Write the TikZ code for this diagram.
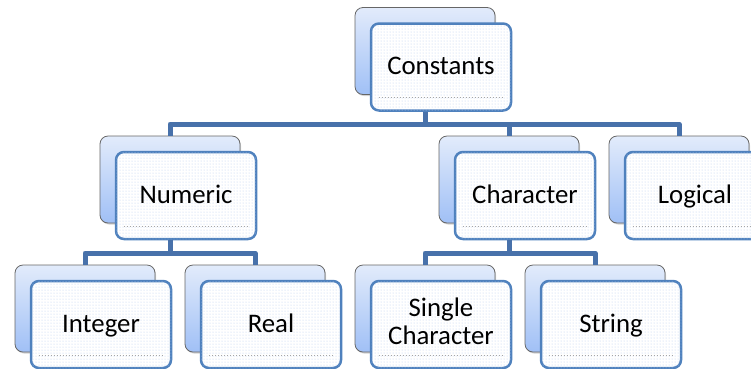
\documentclass[tikz,border=0pt]{standalone}
\usepackage{fontspec}
\setmainfont{Carlito}
\usetikzlibrary{shadows,patterns}
\definecolor{frontblue}{RGB}{79,129,189}
\definecolor{connblue}{RGB}{72,113,170}
\definecolor{backtop}{RGB}{226,235,251}
\definecolor{backbot}{RGB}{160,192,246}
\definecolor{dotblue}{RGB}{185,205,242}
\tikzset{
  backbox/.style={draw=black!60, line width=0.8pt, rounded corners=8pt,
    minimum width=140pt, minimum height=87pt, inner sep=0pt,
    top color=backtop, bottom color=backbot,
    drop shadow={shadow xshift=1pt, shadow yshift=-1.5pt, opacity=0.35}},
  frontbox/.style={draw=frontblue, line width=2.5pt, rounded corners=8pt,
    minimum width=140pt, minimum height=87pt, inner sep=0pt,
    fill=white, postaction={pattern=dots, pattern color=dotblue},
    font=\fontsize{26.8}{27.5}\selectfont, align=center, text=black,
    text height=20pt, text depth=5pt},
  conn/.style={draw=connblue, line width=5pt, line join=round, line cap=butt},
  bottomdots/.style={draw=black!35, line width=1pt, dotted}
}
\begin{document}
\begin{tikzpicture}[x=1pt,y=-1pt]
\useasboundingbox (0,0) rectangle (751,368);
% junctions
\coordinate (j1) at (425,124);
\coordinate (j2) at (170,253);
\coordinate (j3) at (509,253);
% back boxes
\node[backbox] (bC) at (425,51) {};
\node[backbox] (bN) at (170,179.5) {};
\node[backbox] (bCh) at (509,179.5) {};
\node[backbox] (bL) at (679,179.5) {};
\node[backbox] (bI) at (85,308.5) {};
\node[backbox] (bR) at (255,308.5) {};
\node[backbox] (bS) at (425,308.5) {};
\node[backbox] (bSt) at (595,308.5) {};
% connectors
\draw[conn] (bN.north) |- (j1) -| (bL.north);
\draw[conn] (j1) -| (bCh.north);
\draw[conn] (bI.north) |- (j2) -| (bR.north);
\draw[conn] (bS.north) |- (j3) -| (bSt.north);
% front boxes
\node[frontbox] (C) at (441,67) {Constants};
\node[frontbox] (N) at (186,195.5) {Numeric};
\node[frontbox] (Ch) at (525,195.5) {Character};
\node[frontbox] (L) at (695,195.5) {Logical};
\node[frontbox] (I) at (101,324.5) {Integer};
\node[frontbox] (R) at (271,324.5) {Real};
\node[frontbox, text height=44pt] (S) at (441,324.5) {Single\\Character};
\node[frontbox] (St) at (611,324.5) {String};
% stems
\draw[conn] (bC |- C.south) -- (j1);
\draw[conn] (bN |- N.south) -- (j2);
\draw[conn] (bCh |- Ch.south) -- (j3);
% dotted lines near the bottom of front boxes
\foreach \n in {C,N,Ch,L,I,R,S,St}{
  \draw[bottomdots] ([shift={(9,-14)}]\n.south west) -- ([shift={(-9,-14)}]\n.south east);
}
\end{tikzpicture}
\end{document}
